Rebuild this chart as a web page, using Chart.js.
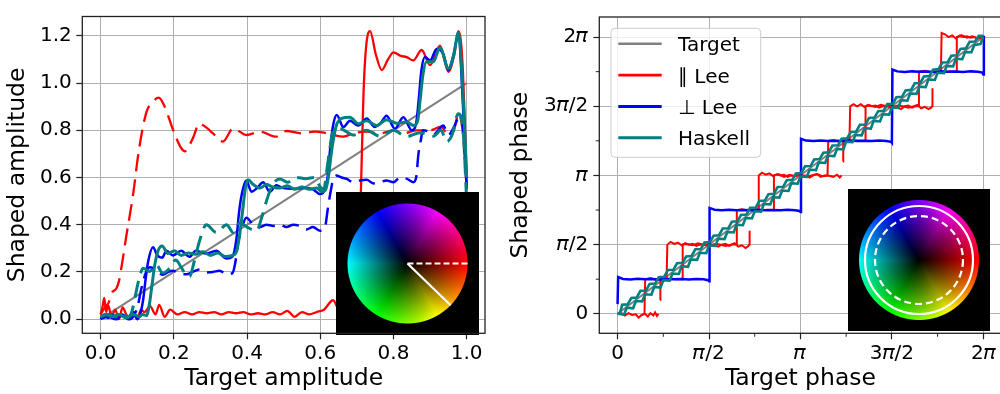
<!DOCTYPE html>
<html>
<head>
<meta charset="utf-8">
<script src="https://cdn.jsdelivr.net/npm/chart.js@4.4.0/dist/chart.umd.min.js"></script>
<style>
  html, body { margin: 0; padding: 0; background: #fff; overflow: hidden; }
  #wrap { position: relative; width: 1000px; height: 394px; overflow: hidden; }
  canvas { position: absolute; top: 0; }
  #amp { left: 0; }
  #phase { left: 500px; }
</style>
</head>
<body>
<div id="wrap">
  <canvas id="amp" width="500" height="394"></canvas>
  <canvas id="phase" width="503" height="394"></canvas>
</div>
<script>
// ---- amplitude panel ----
const ampTicksX = [0, 0.2, 0.4, 0.6, 0.8, 1.0];
const ampTicksY = [0, 0.2, 0.4, 0.6, 0.8, 1.0, 1.2];

const targetAmpX = [0, 1];
const targetAmpY = [0, 1];

const leeParAmpX = [0, 0.005, 0.01, 0.015, 0.02, 0.03, 0.04, 0.05, 0.06, 0.07, 0.08, 0.09, 0.1, 0.11, 0.12, 0.135, 0.15, 0.16, 0.175, 0.19, 0.21, 0.23, 0.25, 0.27, 0.29, 0.31, 0.33, 0.35, 0.37, 0.39, 0.41, 0.43, 0.45, 0.47, 0.49, 0.51, 0.53, 0.55, 0.57, 0.59, 0.61, 0.635, 0.655, 0.675, 0.695, 0.705, 0.712, 0.718, 0.725, 0.736, 0.752, 0.768, 0.785, 0.80, 0.82, 0.836, 0.854, 0.877, 0.90, 0.927, 0.95, 0.966, 0.977, 0.988, 1.0];
const leeParAmpY = [0.02, 0.05, 0.09, 0.03, 0.06, 0.01, 0.04, 0.0, 0.05, 0.02, 0.0, 0.03, 0.0, 0.04, 0.03, 0.055, 0.02, 0.06, 0.01, 0.04, 0.02, 0.03, 0.02, 0.03, 0.025, 0.03, 0.02, 0.03, 0.025, 0.03, 0.02, 0.025, 0.02, 0.03, 0.02, 0.035, 0.01, 0.03, 0.02, 0.03, 0.04, 0.08, 0.03, 0.05, 0.04, 0.2, 0.6, 0.95, 1.15, 1.22, 1.12, 1.055, 1.10, 1.13, 1.115, 1.11, 1.096, 1.14, 1.076, 1.158, 1.048, 1.12, 1.22, 1.1, 0.6];

const leeParAmpDashX = [0, 0.012, 0.022, 0.03, 0.043, 0.05, 0.057, 0.07, 0.088, 0.105, 0.125, 0.142, 0.159, 0.172, 0.184, 0.196, 0.207, 0.22, 0.23, 0.24, 0.252, 0.27, 0.29, 0.307, 0.334, 0.362, 0.398, 0.435, 0.48, 0.507, 0.549, 0.585, 0.61, 0.635, 0.663, 0.69, 0.726, 0.763, 0.80, 0.827, 0.863, 0.9, 0.93, 0.95, 0.965, 0.978, 0.99, 1.0];
const leeParAmpDashY = [0.02, 0.05, 0.07, 0.11, 0.13, 0.16, 0.22, 0.35, 0.52, 0.72, 0.876, 0.92, 0.938, 0.91, 0.863, 0.81, 0.766, 0.725, 0.711, 0.73, 0.766, 0.828, 0.81, 0.787, 0.752, 0.808, 0.78, 0.794, 0.773, 0.797, 0.787, 0.794, 0.79, 0.78, 0.773, 0.787, 0.794, 0.787, 0.80, 0.787, 0.80, 0.80, 0.815, 0.78, 0.80, 0.87, 0.78, 0.55];

const leePerpAmpX = [0, 0.01, 0.02, 0.03, 0.045, 0.06, 0.075, 0.09, 0.1, 0.108, 0.116, 0.123, 0.13, 0.143, 0.155, 0.168, 0.18, 0.198, 0.22, 0.243, 0.26, 0.289, 0.316, 0.344, 0.36, 0.371, 0.378, 0.386, 0.398, 0.412, 0.426, 0.444, 0.462, 0.48, 0.499, 0.526, 0.553, 0.58, 0.599, 0.613, 0.62, 0.627, 0.635, 0.645, 0.663, 0.681, 0.704, 0.727, 0.749, 0.765, 0.781, 0.804, 0.827, 0.85, 0.862, 0.869, 0.876, 0.886, 0.9, 0.918, 0.936, 0.95, 0.964, 0.977, 0.99, 1.0];
const leePerpAmpY = [0.0, 0.02, 0.005, 0.02, 0.0, 0.02, 0.0, 0.03, 0.0, 0.02, 0.08, 0.17, 0.245, 0.305, 0.27, 0.26, 0.29, 0.27, 0.29, 0.264, 0.29, 0.278, 0.29, 0.257, 0.265, 0.34, 0.45, 0.532, 0.587, 0.54, 0.553, 0.58, 0.539, 0.567, 0.555, 0.552, 0.555, 0.55, 0.53, 0.55, 0.6, 0.72, 0.82, 0.865, 0.814, 0.84, 0.82, 0.85, 0.814, 0.83, 0.862, 0.807, 0.855, 0.80, 0.83, 0.93, 1.05, 1.11, 1.096, 1.144, 1.124, 1.055, 1.12, 1.206, 0.9, 0.55];

const leePerpAmpDashX = [0, 0.02, 0.04, 0.06, 0.08, 0.093, 0.102, 0.11, 0.118, 0.125, 0.135, 0.143, 0.157, 0.17, 0.185, 0.198, 0.215, 0.234, 0.252, 0.27, 0.29, 0.307, 0.325, 0.345, 0.36, 0.368, 0.375, 0.385, 0.398, 0.417, 0.435, 0.453, 0.472, 0.49, 0.508, 0.526, 0.544, 0.562, 0.58, 0.6, 0.613, 0.62, 0.626, 0.635, 0.644, 0.658, 0.672, 0.69, 0.708, 0.727, 0.745, 0.763, 0.781, 0.8, 0.818, 0.836, 0.854, 0.862, 0.868, 0.875, 0.88, 0.895, 0.909, 0.922, 0.936, 0.95, 0.964, 0.982, 0.993, 1.0];
const leePerpAmpDashY = [0.0, 0.01, 0.0, 0.01, 0.0, 0.02, 0.06, 0.12, 0.17, 0.202, 0.22, 0.216, 0.2, 0.188, 0.2, 0.205, 0.195, 0.19, 0.2, 0.21, 0.198, 0.2, 0.205, 0.19, 0.195, 0.24, 0.32, 0.381, 0.43, 0.4, 0.39, 0.40, 0.395, 0.40, 0.39, 0.40, 0.395, 0.38, 0.39, 0.374, 0.39, 0.46, 0.52, 0.59, 0.608, 0.6, 0.594, 0.58, 0.587, 0.59, 0.575, 0.58, 0.587, 0.58, 0.60, 0.595, 0.58, 0.60, 0.697, 0.76, 0.80, 0.795, 0.78, 0.80, 0.82, 0.78, 0.81, 0.862, 0.76, 0.55];

const haskellAmpX = [0, 0.015, 0.03, 0.05, 0.07, 0.09, 0.105, 0.115, 0.125, 0.133, 0.14, 0.148, 0.157, 0.168, 0.184, 0.202, 0.22, 0.24, 0.26, 0.28, 0.3, 0.32, 0.34, 0.36, 0.372, 0.38, 0.388, 0.395, 0.403, 0.417, 0.435, 0.453, 0.47, 0.49, 0.51, 0.53, 0.55, 0.57, 0.59, 0.605, 0.615, 0.622, 0.63, 0.638, 0.646, 0.658, 0.681, 0.704, 0.727, 0.754, 0.781, 0.809, 0.836, 0.855, 0.866, 0.873, 0.88, 0.89, 0.909, 0.927, 0.95, 0.965, 0.977, 0.99, 1.0];
const haskellAmpY = [0.01, 0.02, 0.01, 0.02, 0.005, 0.02, 0.01, 0.02, 0.015, 0.06, 0.14, 0.23, 0.29, 0.31, 0.278, 0.29, 0.27, 0.28, 0.275, 0.285, 0.27, 0.28, 0.265, 0.27, 0.29, 0.36, 0.46, 0.55, 0.59, 0.57, 0.555, 0.57, 0.56, 0.555, 0.565, 0.55, 0.56, 0.55, 0.555, 0.54, 0.55, 0.6, 0.7, 0.78, 0.83, 0.85, 0.855, 0.828, 0.84, 0.82, 0.845, 0.83, 0.835, 0.82, 0.84, 0.93, 1.03, 1.09, 1.09, 1.151, 1.062, 1.12, 1.213, 0.95, 0.6];

const haskellAmpDashX = [0, 0.02, 0.04, 0.06, 0.075, 0.085, 0.095, 0.105, 0.116, 0.134, 0.152, 0.17, 0.189, 0.205, 0.22, 0.232, 0.243, 0.255, 0.27, 0.289, 0.316, 0.344, 0.362, 0.38, 0.4, 0.426, 0.44, 0.453, 0.47, 0.49, 0.51, 0.535, 0.56, 0.585, 0.6, 0.61, 0.617, 0.626, 0.635, 0.654, 0.69, 0.726, 0.763, 0.80, 0.836, 0.872, 0.909, 0.93, 0.945, 0.96, 0.977, 0.99, 1.0];
const haskellAmpDashY = [0.01, 0.02, 0.01, 0.02, 0.01, 0.03, 0.1, 0.17, 0.216, 0.202, 0.23, 0.195, 0.216, 0.25, 0.22, 0.19, 0.18, 0.24, 0.33, 0.40, 0.367, 0.40, 0.367, 0.408, 0.39, 0.374, 0.43, 0.5, 0.57, 0.594, 0.58, 0.60, 0.595, 0.60, 0.56, 0.55, 0.62, 0.72, 0.794, 0.807, 0.78, 0.80, 0.775, 0.80, 0.773, 0.79, 0.775, 0.8, 0.752, 0.78, 0.87, 0.8, 0.5];

// ---- phase panel (all values in units of pi), x,y pairs; null,null breaks a line ----
const phaseTicks = [0, 0.5, 1, 1.5, 2];
const phaseTickLabels = ['0', '𝜋/2', '𝜋', '3𝜋/2', '2𝜋'];
const phaseMinorTicks = [0.25, 0.75, 1.25, 1.75];

const targetPhase = [0, 0, 2, 2];

const leeParPhaseA = [
  0,0, 0.02,0.005, 0.04,-0.012, 0.06,0.004, 0.08,-0.008, 0.1,-0.004, 0.115,-0.028, 0.13,-0.01, 0.147,0,
  0.151,0.25, 0.18,0.258, 0.21,0.245, 0.24,0.252, 0.268,0.25,
  0.272,0.5, 0.29,0.52, 0.31,0.505, 0.33,0.515, 0.35,0.495, 0.37,0.51, 0.39,0.5, 0.41,0.505, 0.43,0.49, 0.45,0.5, 0.47,0.495, 0.49,0.505, 0.51,0.5, 0.53,0.495, 0.55,0.485, 0.57,0.5, 0.59,0.505, 0.61,0.49, 0.63,0.502, 0.648,0.5,
  0.652,0.75, 0.68,0.756, 0.71,0.746, 0.74,0.752, 0.768,0.75,
  0.772,1.0, 0.79,1.02, 0.81,1.005, 0.83,1.015, 0.85,0.995, 0.87,1.008, 0.89,1.0, 0.91,1.005, 0.93,0.99, 0.95,1.0, 0.97,0.995, 0.99,1.005, 1.01,0.998, 1.03,1.0, 1.05,0.985, 1.07,1.0, 1.09,1.01, 1.11,0.99, 1.13,1.0, 1.148,1.0,
  1.152,1.25, 1.18,1.256, 1.21,1.246, 1.24,1.252, 1.268,1.25,
  1.272,1.5, 1.29,1.515, 1.31,1.5, 1.33,1.515, 1.35,1.495, 1.37,1.51, 1.39,1.5, 1.41,1.505, 1.43,1.49, 1.45,1.5, 1.47,1.5, 1.49,1.505, 1.51,1.5, 1.53,1.49, 1.55,1.48, 1.57,1.5, 1.59,1.505, 1.61,1.49, 1.628,1.5, 1.644,1.5,
  1.648,1.75, 1.68,1.756, 1.71,1.746, 1.74,1.752, 1.768,1.75,
  1.772,2.03, 1.79,2.02, 1.81,2.0, 1.83,2.012, 1.85,1.99, 1.87,2.01, 1.89,2.0, 1.91,2.005, 1.93,1.995, 1.95,2.0, 1.97,1.99, 1.99,1.995
];
const leeParPhaseB = [
  0.13,-0.01, 0.15,0.0, 0.165,-0.02, 0.18,0.005, 0.195,-0.012, 0.205,0.01, 0.215,-0.015, 0.224,0.0, null,null,
  0.233,0.1, 0.234,0.25, 0.26,0.245, 0.29,0.255, 0.32,0.25, 0.353,0.25,
  0.356,0.5, 0.38,0.505, 0.41,0.495, 0.44,0.51, 0.47,0.5, 0.5,0.49, 0.53,0.505, 0.56,0.5, 0.59,0.49, 0.62,0.5, 0.64,0.51, 0.66,0.485, 0.68,0.495, 0.70,0.475, 0.715,0.49, 0.72,0.5, 0.722,0.6, null,null,
  0.76,0.75, 0.79,0.748, 0.82,0.752, 0.852,0.75,
  0.855,1.0, 0.88,1.01, 0.91,0.99, 0.94,1.005, 0.97,0.995, 1.0,1.005, 1.03,0.99, 1.06,1.0, 1.09,1.01, 1.12,0.995, 1.15,1.0, 1.18,0.99, 1.2,1.005, 1.215,0.985, 1.225,1.0, null,null,
  1.233,1.1, 1.234,1.25, 1.26,1.245, 1.29,1.255, 1.32,1.25, 1.353,1.25,
  1.356,1.5, 1.38,1.505, 1.41,1.495, 1.44,1.51, 1.47,1.5, 1.5,1.49, 1.53,1.505, 1.56,1.5, 1.59,1.49, 1.62,1.5, 1.64,1.51, 1.66,1.485, 1.68,1.495, 1.70,1.48, 1.715,1.49, 1.72,1.5, 1.722,1.63, null,null,
  1.76,1.75, 1.79,1.748, 1.82,1.752, 1.852,1.75,
  1.855,2.0, 1.88,2.015, 1.91,1.995, 1.94,2.005, 1.97,1.99, 1.99,2.0
];

const leePerpPhase = [
  0,0.07, 0.003,0.265, 0.03,0.252, 0.07,0.248, 0.11,0.253, 0.15,0.249, 0.19,0.252, 0.23,0.248, 0.27,0.251, 0.31,0.249, 0.35,0.252, 0.39,0.248, 0.43,0.251, 0.47,0.249, 0.495,0.243, 0.5,0.235,
  0.503,0.765, 0.53,0.752, 0.57,0.748, 0.61,0.752, 0.65,0.749, 0.69,0.751, 0.73,0.748, 0.77,0.752, 0.81,0.749, 0.85,0.751, 0.89,0.748, 0.93,0.752, 0.97,0.749, 0.995,0.743, 1.0,0.735,
  1.003,1.265, 1.03,1.252, 1.07,1.248, 1.11,1.253, 1.15,1.249, 1.19,1.251, 1.23,1.248, 1.27,1.252, 1.31,1.249, 1.35,1.251, 1.39,1.248, 1.43,1.252, 1.47,1.249, 1.495,1.243, 1.5,1.235,
  1.503,1.765, 1.53,1.752, 1.57,1.748, 1.61,1.752, 1.65,1.749, 1.69,1.751, 1.73,1.748, 1.77,1.752, 1.81,1.749, 1.85,1.751, 1.89,1.748, 1.93,1.752, 1.97,1.749, 1.995,1.743, 2.0,1.73, 2.003,2.01
];

const haskellPhaseA = [
  0,0, 0.035,-0.006, 0.05,0.044, 0.085,0.04, 0.1,0.092, 0.135,0.09, 0.15,0.141, 0.185,0.138, 0.2,0.194, 0.235,0.19,
  0.25,0.242, 0.285,0.24, 0.3,0.291, 0.335,0.288, 0.35,0.344, 0.385,0.34, 0.4,0.392, 0.435,0.39, 0.45,0.441, 0.485,0.438,
  0.5,0.494, 0.535,0.49, 0.55,0.542, 0.585,0.54, 0.6,0.591, 0.635,0.588, 0.65,0.644, 0.685,0.64, 0.7,0.692, 0.735,0.69,
  0.75,0.741, 0.785,0.738, 0.8,0.794, 0.835,0.79, 0.85,0.842, 0.885,0.84, 0.9,0.891, 0.935,0.888, 0.95,0.944, 0.985,0.94,
  1.0,0.992, 1.035,0.99, 1.05,1.041, 1.085,1.038, 1.1,1.094, 1.135,1.09, 1.15,1.142, 1.185,1.14, 1.2,1.191, 1.235,1.188,
  1.25,1.244, 1.285,1.24, 1.3,1.292, 1.335,1.29, 1.35,1.341, 1.385,1.338, 1.4,1.394, 1.435,1.39, 1.45,1.442, 1.485,1.44,
  1.5,1.491, 1.535,1.488, 1.55,1.544, 1.585,1.54, 1.6,1.592, 1.635,1.59, 1.65,1.641, 1.685,1.638, 1.7,1.694, 1.735,1.69,
  1.75,1.742, 1.785,1.74, 1.8,1.791, 1.835,1.788, 1.85,1.844, 1.885,1.84, 1.9,1.892, 1.935,1.89, 1.95,1.941, 1.985,1.95,
  2.0,2.0
];
const haskellPhaseB = [
  0,0, 0.012,0.002, 0.025,0.065, 0.055,0.068, 0.075,0.114, 0.105,0.118, 0.125,0.166, 0.155,0.168, 0.175,0.215, 0.205,0.218,
  0.225,0.264, 0.255,0.268, 0.275,0.316, 0.305,0.318, 0.325,0.365, 0.355,0.368, 0.375,0.414, 0.405,0.418, 0.425,0.466, 0.455,0.468,
  0.475,0.515, 0.505,0.518, 0.525,0.564, 0.555,0.568, 0.575,0.616, 0.605,0.618, 0.625,0.665, 0.655,0.668, 0.675,0.714, 0.705,0.718,
  0.725,0.766, 0.755,0.768, 0.775,0.815, 0.805,0.818, 0.825,0.864, 0.855,0.868, 0.875,0.916, 0.905,0.918, 0.925,0.965, 0.955,0.968,
  0.975,1.014, 1.005,1.018, 1.025,1.066, 1.055,1.068, 1.075,1.115, 1.105,1.118, 1.125,1.164, 1.155,1.168, 1.175,1.216, 1.205,1.218,
  1.225,1.265, 1.255,1.268, 1.275,1.314, 1.305,1.318, 1.325,1.366, 1.355,1.368, 1.375,1.415, 1.405,1.418, 1.425,1.464, 1.455,1.468,
  1.475,1.516, 1.505,1.518, 1.525,1.565, 1.555,1.568, 1.575,1.614, 1.605,1.618, 1.625,1.666, 1.655,1.668, 1.675,1.715, 1.705,1.718,
  1.725,1.764, 1.755,1.768, 1.775,1.816, 1.805,1.818, 1.825,1.865, 1.855,1.868, 1.875,1.914, 1.905,1.918, 1.925,1.966, 1.955,1.968,
  1.975,2.01, 2.0,2.01
];

const legendLabels = ['Target', '∥ Lee', '⊥ Lee', 'Haskell'];

const GRAY = '#808080', RED = '#ff0000', BLUE = '#0000ff', TEAL = '#008080', GRID = '#b0b0b0', INK = '#222222';
const DASH = [17, 8];

function zip(xs, ys) { return xs.map((x, i) => ({x, y: ys[i]})); }
function pairs(a) {
  const pts = [];
  for (let i = 0; i < a.length; i += 2) {
    if (a[i] === null) pts.push({x: pts[pts.length - 1].x, y: null});
    else pts.push({x: a[i], y: a[i + 1]});
  }
  return pts;
}
function ds(label, data, color, width, dash, order) {
  return {label, data, borderColor: color, backgroundColor: color, borderWidth: width,
          borderDash: dash || [], order, fill: false, pointRadius: 0};
}

function hsv(h, s, v) {
  const f = n => { const k = (n + h / 60) % 6; return v - v * s * Math.max(0, Math.min(k, 4 - k, 1)); };
  return [f(5), f(3), f(1)];
}

function drawWheel(ctx, area, o) {
  const size = o.size, r = o.r;
  const c = document.createElement('canvas');
  c.width = c.height = size;
  const g = c.getContext('2d');
  const img = g.createImageData(size, size);
  const cx = size / 2, cy = size / 2;
  for (let j = 0; j < size; j++) {
    for (let i = 0; i < size; i++) {
      const dx = i + 0.5 - cx, dy = j + 0.5 - cy, d = Math.hypot(dx, dy);
      const cov = Math.max(0, Math.min(1, r + 0.5 - d));
      let h = Math.atan2(dy, dx) * 180 / Math.PI;
      if (h < 0) h += 360;
      const rgb = hsv(h, 1, Math.min(d / r, 1));
      const k = (j * size + i) * 4;
      img.data[k] = rgb[0] * cov * 255;
      img.data[k + 1] = rgb[1] * cov * 255;
      img.data[k + 2] = rgb[2] * cov * 255;
      img.data[k + 3] = 255;
    }
  }
  g.putImageData(img, 0, 0);
  const x0 = Math.round(area.left + o.dx), y0 = Math.round(area.top + o.dy);
  ctx.save();
  ctx.drawImage(c, x0, y0);
  const px = x0 + cx, py = y0 + cy;
  ctx.strokeStyle = '#fff';
  ctx.lineWidth = 2.2;
  if (o.marks === 'spokes') {
    ctx.setLineDash([6, 3]);
    ctx.beginPath(); ctx.moveTo(px, py); ctx.lineTo(px + r, py); ctx.stroke();
    ctx.setLineDash([]);
    const t = 44 * Math.PI / 180;
    ctx.beginPath(); ctx.moveTo(px, py); ctx.lineTo(px + r * Math.cos(t), py + r * Math.sin(t)); ctx.stroke();
  } else {
    ctx.beginPath(); ctx.arc(px, py, 54, 0, 2 * Math.PI); ctx.stroke();
    ctx.setLineDash([7, 4]);
    ctx.beginPath(); ctx.arc(px, py, 44, 0, 2 * Math.PI); ctx.stroke();
  }
  ctx.restore();
}

function drawLegend(ctx, area, o) {
  const x0 = area.left + o.dx, y0 = area.top + o.dy;
  ctx.save();
  ctx.beginPath();
  ctx.roundRect(x0, y0, o.w, o.h, 4);
  ctx.fillStyle = 'rgba(255,255,255,0.8)';
  ctx.fill();
  ctx.strokeStyle = '#cccccc';
  ctx.lineWidth = 1;
  ctx.stroke();
  ctx.font = "20px 'DejaVu Sans'";
  ctx.textBaseline = 'alphabetic';
  ctx.textAlign = 'left';
  o.items.forEach((it, i) => {
    const y = y0 + 15.5 + i * 31.3;
    ctx.strokeStyle = it.color;
    ctx.lineWidth = it.width;
    ctx.beginPath(); ctx.moveTo(x0 + 7.3, y); ctx.lineTo(x0 + 50.7, y); ctx.stroke();
    ctx.fillStyle = '#000';
    ctx.fillText(it.label, x0 + 67, y + 7.5);
  });
  ctx.restore();
}

const panelDecor = {
  id: 'panelDecor',
  afterDatasetsDraw(chart, args, o) {
    const {ctx, chartArea: a} = chart;
    if (o.wheel) drawWheel(ctx, a, o.wheel);
    if (o.legend) drawLegend(ctx, a, o.legend);
    ctx.save();
    ctx.strokeStyle = INK;
    ctx.lineWidth = 1.3;
    ctx.strokeRect(a.left, a.top, a.right - a.left, a.bottom - a.top);
    if (o.minor) {
      const xs = chart.scales.x, ys = chart.scales.y;
      ctx.lineWidth = 1;
      ctx.beginPath();
      o.minor.forEach(v => {
        const px = xs.getPixelForValue(v), py = ys.getPixelForValue(v);
        ctx.moveTo(px, a.bottom); ctx.lineTo(px, a.bottom + 3.5);
        ctx.moveTo(a.left, py); ctx.lineTo(a.left - 3.5, py);
      });
      ctx.stroke();
    }
    ctx.restore();
  }
};

Chart.defaults.font.family = "'DejaVu Sans', sans-serif";
Chart.defaults.color = '#000';

const gridOpts = {color: GRID, lineWidth: 1, tickColor: INK, tickLength: 6, tickWidth: 1.2};

new Chart(document.getElementById('amp'), {
  type: 'line',
  data: {
    datasets: [
      ds('Target', zip(targetAmpX, targetAmpY), GRAY, 2, null, 6),
      ds('∥ Lee', zip(leeParAmpX, leeParAmpY), RED, 2.3, null, 4),
      ds('∥ Lee dashed', zip(leeParAmpDashX, leeParAmpDashY), RED, 2.3, DASH, 5),
      ds('⊥ Lee', zip(leePerpAmpX, leePerpAmpY), BLUE, 2.5, null, 2),
      ds('⊥ Lee dashed', zip(leePerpAmpDashX, leePerpAmpDashY), BLUE, 2.5, DASH, 3),
      ds('Haskell', zip(haskellAmpX, haskellAmpY), TEAL, 3, null, 0),
      ds('Haskell dashed', zip(haskellAmpDashX, haskellAmpDashY), TEAL, 3, DASH, 1)
    ]
  },
  options: {
    responsive: false,
    animation: false,
    devicePixelRatio: 1,
    layout: {padding: {left: 0, right: 15, top: 8.7, bottom: 0}},
    elements: {point: {radius: 0}, line: {cubicInterpolationMode: 'monotone'}},
    plugins: {
      legend: {display: false},
      tooltip: {enabled: false},
      panelDecor: {wheel: {dx: 253.7, dy: 175.3, size: 143, r: 60, marks: 'spokes'}}
    },
    scales: {
      x: {
        type: 'linear', min: -0.05, max: 1.05,
        afterBuildTicks: s => { s.ticks = ampTicksX.map(v => ({value: v})); },
        afterFit: s => { s.height = 60.7; },
        ticks: {font: {size: 20}, padding: 2, maxRotation: 0, callback: v => v.toFixed(1)},
        grid: gridOpts,
        border: {display: false},
        title: {display: true, text: 'Target amplitude', font: {size: 23.5}, padding: {top: 0, bottom: 1}}
      },
      y: {
        type: 'linear', min: -0.06, max: 1.282,
        afterBuildTicks: s => { s.ticks = ampTicksY.map(v => ({value: v})); },
        afterFit: s => { s.width = 82.3; },
        ticks: {font: {size: 20}, padding: 4.5, callback: v => v.toFixed(1)},
        grid: gridOpts,
        border: {display: false},
        title: {display: true, text: 'Shaped amplitude', font: {size: 23.5}, padding: {top: 4, bottom: 0}}
      }
    }
  },
  plugins: [panelDecor]
});

const phaseLabel = v => phaseTickLabels[phaseTicks.indexOf(v)];

new Chart(document.getElementById('phase'), {
  type: 'line',
  data: {
    datasets: [
      ds('Target', pairs(targetPhase), GRAY, 2, null, 6),
      ds('∥ Lee', pairs(leeParPhaseA), RED, 2, null, 4),
      ds('∥ Lee (2)', pairs(leeParPhaseB), RED, 2, null, 5),
      ds('⊥ Lee', pairs(leePerpPhase), BLUE, 2.5, null, 3),
      ds('Haskell', pairs(haskellPhaseA), TEAL, 2.6, null, 1),
      ds('Haskell (2)', pairs(haskellPhaseB), TEAL, 2.6, null, 0)
    ]
  },
  options: {
    responsive: false,
    animation: false,
    devicePixelRatio: 1,
    layout: {padding: {left: 0, right: 1.4, top: 8.7, bottom: 0}},
    elements: {point: {radius: 0}, line: {tension: 0}},
    plugins: {
      legend: {display: false},
      tooltip: {enabled: false},
      panelDecor: {
        wheel: {dx: 248.4, dy: 172.3, size: 142, r: 60, marks: 'rings'},
        legend: {
          dx: 11.7, dy: 11.3, w: 149.7, h: 129,
          items: [
            {label: legendLabels[0], color: GRAY, width: 2.6},
            {label: legendLabels[1], color: RED, width: 2.6},
            {label: legendLabels[2], color: BLUE, width: 3},
            {label: legendLabels[3], color: TEAL, width: 3}
          ]
        },
        minor: phaseMinorTicks
      }
    },
    scales: {
      x: {
        type: 'linear', min: -0.1, max: 2.1,
        afterBuildTicks: s => { s.ticks = phaseTicks.map(v => ({value: v})); },
        afterFit: s => { s.height = 60.7; },
        ticks: {font: {size: 20}, padding: 2, maxRotation: 0, callback: phaseLabel},
        grid: gridOpts,
        border: {display: false},
        title: {display: true, text: 'Target phase', font: {size: 23.5}, padding: {top: 0, bottom: 1}}
      },
      y: {
        type: 'linear', min: -0.141, max: 2.145,
        afterBuildTicks: s => { s.ticks = phaseTicks.map(v => ({value: v})); },
        afterFit: s => { s.width = 99.3; },
        ticks: {font: {size: 20}, padding: 5, callback: phaseLabel},
        grid: gridOpts,
        border: {display: false},
        title: {display: true, text: 'Shaped phase', font: {size: 23.5}, padding: {top: 7, bottom: 0}}
      }
    }
  },
  plugins: [panelDecor]
});
</script>
</body>
</html>
